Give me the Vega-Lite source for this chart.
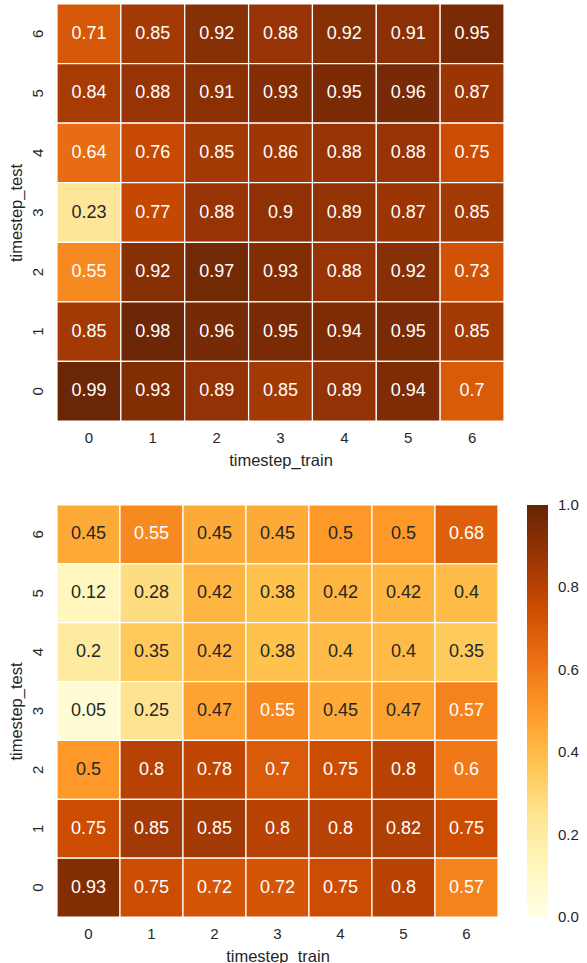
{
  "$schema": "https://vega.github.io/schema/vega-lite/v6.json",
  "padding": {"left": 8, "top": 3, "right": 5, "bottom": 0},
  "background": "white",
  "datasets": {
    "top": [
      {"train": 0, "test": 6, "value": 0.71}, {"train": 1, "test": 6, "value": 0.85}, {"train": 2, "test": 6, "value": 0.92}, {"train": 3, "test": 6, "value": 0.88}, {"train": 4, "test": 6, "value": 0.92}, {"train": 5, "test": 6, "value": 0.91}, {"train": 6, "test": 6, "value": 0.95},
      {"train": 0, "test": 5, "value": 0.84}, {"train": 1, "test": 5, "value": 0.88}, {"train": 2, "test": 5, "value": 0.91}, {"train": 3, "test": 5, "value": 0.93}, {"train": 4, "test": 5, "value": 0.95}, {"train": 5, "test": 5, "value": 0.96}, {"train": 6, "test": 5, "value": 0.87},
      {"train": 0, "test": 4, "value": 0.64}, {"train": 1, "test": 4, "value": 0.76}, {"train": 2, "test": 4, "value": 0.85}, {"train": 3, "test": 4, "value": 0.86}, {"train": 4, "test": 4, "value": 0.88}, {"train": 5, "test": 4, "value": 0.88}, {"train": 6, "test": 4, "value": 0.75},
      {"train": 0, "test": 3, "value": 0.23}, {"train": 1, "test": 3, "value": 0.77}, {"train": 2, "test": 3, "value": 0.88}, {"train": 3, "test": 3, "value": 0.9}, {"train": 4, "test": 3, "value": 0.89}, {"train": 5, "test": 3, "value": 0.87}, {"train": 6, "test": 3, "value": 0.85},
      {"train": 0, "test": 2, "value": 0.55}, {"train": 1, "test": 2, "value": 0.92}, {"train": 2, "test": 2, "value": 0.97}, {"train": 3, "test": 2, "value": 0.93}, {"train": 4, "test": 2, "value": 0.88}, {"train": 5, "test": 2, "value": 0.92}, {"train": 6, "test": 2, "value": 0.73},
      {"train": 0, "test": 1, "value": 0.85}, {"train": 1, "test": 1, "value": 0.98}, {"train": 2, "test": 1, "value": 0.96}, {"train": 3, "test": 1, "value": 0.95}, {"train": 4, "test": 1, "value": 0.94}, {"train": 5, "test": 1, "value": 0.95}, {"train": 6, "test": 1, "value": 0.85},
      {"train": 0, "test": 0, "value": 0.99}, {"train": 1, "test": 0, "value": 0.93}, {"train": 2, "test": 0, "value": 0.89}, {"train": 3, "test": 0, "value": 0.85}, {"train": 4, "test": 0, "value": 0.89}, {"train": 5, "test": 0, "value": 0.94}, {"train": 6, "test": 0, "value": 0.7}
    ],
    "bottom": [
      {"train": 0, "test": 6, "value": 0.45}, {"train": 1, "test": 6, "value": 0.55}, {"train": 2, "test": 6, "value": 0.45}, {"train": 3, "test": 6, "value": 0.45}, {"train": 4, "test": 6, "value": 0.5}, {"train": 5, "test": 6, "value": 0.5}, {"train": 6, "test": 6, "value": 0.68},
      {"train": 0, "test": 5, "value": 0.12}, {"train": 1, "test": 5, "value": 0.28}, {"train": 2, "test": 5, "value": 0.42}, {"train": 3, "test": 5, "value": 0.38}, {"train": 4, "test": 5, "value": 0.42}, {"train": 5, "test": 5, "value": 0.42}, {"train": 6, "test": 5, "value": 0.4},
      {"train": 0, "test": 4, "value": 0.2}, {"train": 1, "test": 4, "value": 0.35}, {"train": 2, "test": 4, "value": 0.42}, {"train": 3, "test": 4, "value": 0.38}, {"train": 4, "test": 4, "value": 0.4}, {"train": 5, "test": 4, "value": 0.4}, {"train": 6, "test": 4, "value": 0.35},
      {"train": 0, "test": 3, "value": 0.05}, {"train": 1, "test": 3, "value": 0.25}, {"train": 2, "test": 3, "value": 0.47}, {"train": 3, "test": 3, "value": 0.55}, {"train": 4, "test": 3, "value": 0.45}, {"train": 5, "test": 3, "value": 0.47}, {"train": 6, "test": 3, "value": 0.57},
      {"train": 0, "test": 2, "value": 0.5}, {"train": 1, "test": 2, "value": 0.8}, {"train": 2, "test": 2, "value": 0.78}, {"train": 3, "test": 2, "value": 0.7}, {"train": 4, "test": 2, "value": 0.75}, {"train": 5, "test": 2, "value": 0.8}, {"train": 6, "test": 2, "value": 0.6},
      {"train": 0, "test": 1, "value": 0.75}, {"train": 1, "test": 1, "value": 0.85}, {"train": 2, "test": 1, "value": 0.85}, {"train": 3, "test": 1, "value": 0.8}, {"train": 4, "test": 1, "value": 0.8}, {"train": 5, "test": 1, "value": 0.82}, {"train": 6, "test": 1, "value": 0.75},
      {"train": 0, "test": 0, "value": 0.93}, {"train": 1, "test": 0, "value": 0.75}, {"train": 2, "test": 0, "value": 0.72}, {"train": 3, "test": 0, "value": 0.72}, {"train": 4, "test": 0, "value": 0.75}, {"train": 5, "test": 0, "value": 0.8}, {"train": 6, "test": 0, "value": 0.57}
    ]
  },
  "spacing": 35,
  "resolve": {"scale": {"color": "independent"}, "legend": {"color": "independent"}},
  "vconcat": [
    {
      "width": 447,
      "height": 417,
      "data": {"name": "top"},
      "encoding": {
        "x": {"field": "train", "type": "ordinal", "title": "timestep_train", "axis": {"labelAngle": 0, "labelFontSize": 15, "labelPadding": 9, "titlePadding": 7}},
        "y": {"field": "test", "type": "ordinal", "sort": "descending", "title": "timestep_test", "axis": {"labelAngle": -90, "labelFontSize": 15, "labelPadding": 12, "titlePadding": 6}}
      },
      "layer": [
        {
          "mark": {"type": "rect", "stroke": "white", "strokeWidth": 1.2},
          "encoding": {
            "color": {
              "field": "value", "type": "quantitative",
              "scale": {"type": "linear", "domain": [0, 0.125, 0.25, 0.375, 0.5, 0.625, 0.75, 0.875, 1], "range": ["#ffffe5", "#fff7bc", "#fee391", "#fec44f", "#fe9929", "#ec7014", "#cc4c02", "#993404", "#662506"], "interpolate": "rgb"},
              "legend": null
            }
          }
        },
        {
          "mark": {"type": "text", "fontSize": 18},
          "encoding": {
            "text": {"field": "value", "type": "nominal"},
            "color": {"condition": {"test": "datum.value > 0.52", "value": "white"}, "value": "#262626"}
          }
        }
      ]
    },
    {
      "width": 441,
      "height": 412,
      "data": {"name": "bottom"},
      "encoding": {
        "x": {"field": "train", "type": "ordinal", "title": "timestep_train", "axis": {"labelAngle": 0, "labelFontSize": 15, "labelPadding": 9, "titlePadding": 7}},
        "y": {"field": "test", "type": "ordinal", "sort": "descending", "title": "timestep_test", "axis": {"labelAngle": -90, "labelFontSize": 15, "labelPadding": 12, "titlePadding": 6}}
      },
      "layer": [
        {
          "mark": {"type": "rect", "stroke": "white", "strokeWidth": 1.2},
          "encoding": {
            "color": {
              "field": "value", "type": "quantitative",
              "scale": {"type": "linear", "domain": [0, 0.125, 0.25, 0.375, 0.5, 0.625, 0.75, 0.875, 1], "range": ["#ffffe5", "#fff7bc", "#fee391", "#fec44f", "#fe9929", "#ec7014", "#cc4c02", "#993404", "#662506"], "interpolate": "rgb"},
              "legend": {
                "title": null,
                "type": "gradient",
                "values": [0.001, 0.2, 0.4, 0.6, 0.8, 0.999],
                "format": ".1f",
                "gradientLength": 412,
                "gradientThickness": 21,
                "gradientStrokeWidth": 0,
                "offset": 29,
                "labelFontSize": 15,
                "labelColor": "#262626",
                "labelOffset": 10,
                "labelOverlap": false
              }
            }
          }
        },
        {
          "mark": {"type": "text", "fontSize": 18},
          "encoding": {
            "text": {"field": "value", "type": "nominal"},
            "color": {"condition": {"test": "datum.value > 0.52", "value": "white"}, "value": "#262626"}
          }
        }
      ]
    }
  ],
  "config": {
    "font": "Liberation Sans",
    "view": {"stroke": null},
    "scale": {"bandPaddingInner": 0, "bandPaddingOuter": 0},
    "axis": {
      "domain": false,
      "ticks": false,
      "tickSize": 0,
      "grid": false,
      "labelFontSize": 15,
      "labelColor": "#262626",
      "titleFontSize": 16.5,
      "titleFontWeight": "normal",
      "titleColor": "#262626"
    },
    "legend": {"padding": 0}
  }
}
